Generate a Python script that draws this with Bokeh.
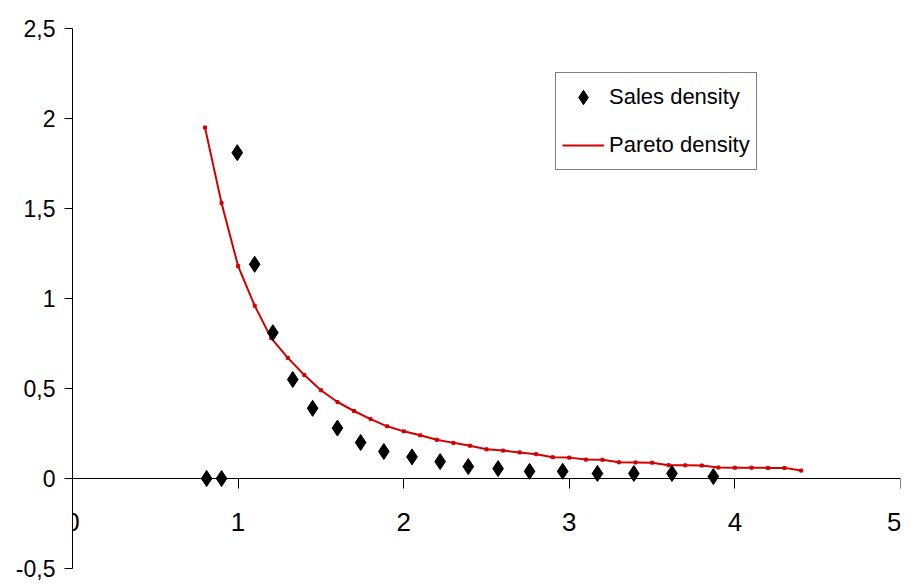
from bokeh.plotting import figure
from bokeh.models import FixedTicker, Range1d, Legend, LegendItem
from bokeh.embed import file_html
from bokeh.resources import INLINE

# Sales density (observed)
sales_x = [0.81, 0.90, 0.995, 1.10, 1.21, 1.33, 1.45, 1.60, 1.74, 1.88,
           2.05, 2.22, 2.39, 2.57, 2.76, 2.96, 3.17, 3.39, 3.62, 3.87]
sales_y = [0.0, 0.0, 1.81, 1.19, 0.81, 0.55, 0.39, 0.28, 0.20, 0.15,
           0.12, 0.094, 0.066, 0.055, 0.04, 0.04, 0.028, 0.028, 0.028, 0.011]

# Pareto density (fitted)
pareto_x = [0.8, 0.9, 1.0, 1.1, 1.2, 1.3, 1.4, 1.5, 1.6, 1.7,
            1.8, 1.9, 2.0, 2.1, 2.2, 2.3, 2.4, 2.5, 2.6, 2.7,
            2.8, 2.9, 3.0, 3.1, 3.2, 3.3, 3.4, 3.5, 3.6, 3.7,
            3.8, 3.9, 4.0, 4.1, 4.2, 4.3, 4.4]
pareto_y = [1.95, 1.53, 1.18, 0.96, 0.78, 0.67, 0.575, 0.49, 0.425, 0.375,
            0.33, 0.29, 0.262, 0.24, 0.215, 0.198, 0.182, 0.162, 0.155, 0.145,
            0.135, 0.118, 0.116, 0.105, 0.104, 0.09, 0.089, 0.088, 0.074, 0.073,
            0.072, 0.061, 0.06, 0.06, 0.059, 0.059, 0.044]

x_ticks = [0, 1, 2, 3, 4, 5]
y_ticks = [-0.5, 0, 0.5, 1, 1.5, 2, 2.5]
y_tick_labels = ["-0,5", "0", "0,5", "1", "1,5", "2", "2,5"]

FONT = "Liberation Sans"
RED = "#d20000"

p = figure(width=901, height=585, output_backend="svg", toolbar_location=None,
           x_range=Range1d(x_ticks[0], x_ticks[-1]),
           y_range=Range1d(y_ticks[0], y_ticks[-1]),
           min_border_left=72, min_border_right=1, min_border_top=28, min_border_bottom=17)
p.xgrid.visible = False
p.ygrid.visible = False
p.outline_line_color = None
p.background_fill_color = "white"
p.border_fill_color = "white"

# y axis
yax = p.yaxis[0]
yax.ticker = FixedTicker(ticks=y_ticks)
yax.major_label_overrides = {t: l for t, l in zip(y_ticks, y_tick_labels)}
yax.minor_tick_line_color = None
yax.major_tick_in = 0
yax.major_tick_out = 8
yax.major_label_standoff = 9
yax.axis_line_color = "black"
yax.major_tick_line_color = "black"
yax.major_label_text_font = FONT
yax.major_label_text_font_size = "23px"
yax.major_label_text_color = "black"

# x axis crossing at y=0
xax = p.xaxis[0]
xax.fixed_location = 0
xax.ticker = FixedTicker(ticks=x_ticks)
xax.minor_tick_line_color = None
xax.major_tick_in = 0
xax.major_tick_out = 10
xax.major_label_standoff = 24
xax.axis_line_color = "black"
xax.major_tick_line_color = "black"
xax.major_label_text_font = FONT
xax.major_label_text_font_size = "26px"
xax.major_label_text_color = "black"

r_line = p.line(pareto_x, pareto_y, line_color=RED, line_width=2)
r_mark = p.scatter(pareto_x, pareto_y, marker="square", size=3, color=RED)
r_sales = p.scatter(sales_x, sales_y, marker="diamond", size=16, color="black")

legend = Legend(items=[LegendItem(label="Sales density", renderers=[r_sales]),
                       LegendItem(label="Pareto density", renderers=[r_line])],
                location=(483, 398))
legend.label_text_font = FONT
legend.label_text_font_size = "22px"
legend.label_text_color = "black"
legend.border_line_color = "black"
legend.border_line_width = 1
legend.background_fill_color = "white"
legend.background_fill_alpha = 1
legend.padding = 6
legend.spacing = 12
legend.glyph_width = 42
legend.glyph_height = 36
legend.label_height = 36
legend.label_standoff = 5
legend.margin = 0
p.add_layout(legend)

open("out.html", "w").write(file_html(p, INLINE))
